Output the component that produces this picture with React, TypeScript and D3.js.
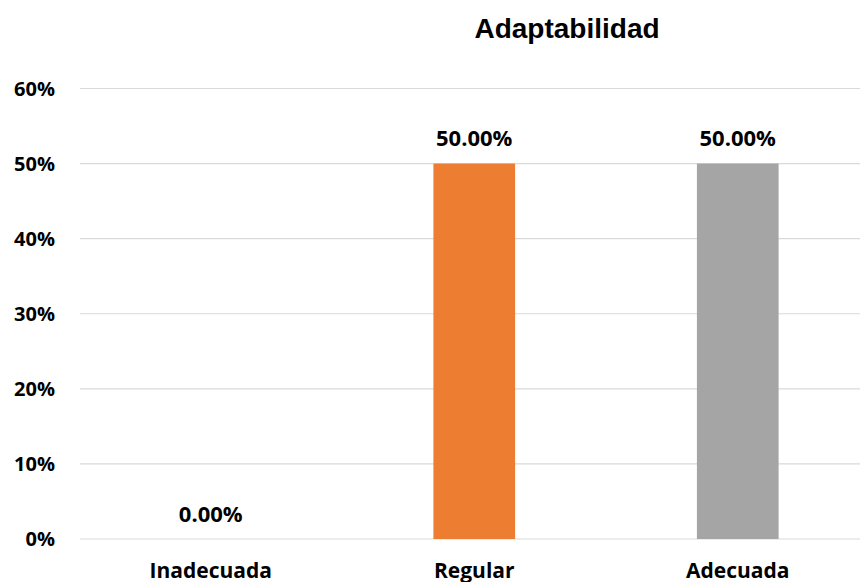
import React from "react";
import * as d3 from "d3";

const categories = ["Inadecuada", "Regular", "Adecuada"];
const values = [0, 0.5, 0.5];
const colors = ["#4472C4", "#ED7D31", "#A5A5A5"];
const yTicks = [0, 0.1, 0.2, 0.3, 0.4, 0.5, 0.6];
const title = "Adaptabilidad";

const W = 860;
const H = 582;
const left = 79;
const right = 869.5;
const top = 88.5;
const bottom = 539;
const labelFont = "Open Sans, Noto Sans, sans-serif";

export default function App() {
  const x = d3.scaleBand<string>().domain(categories).range([left, right]).paddingInner(0.69).paddingOuter(0.345);
  const y = d3.scaleLinear().domain([0, 0.6]).range([bottom, top]);
  const pct0 = d3.format(".0%");
  const pct2 = d3.format(".2%");

  return (
    <svg width={W} height={H} style={{ position: "absolute", left: 0, top: 0, background: "#fff" }}>
      <text x={567} y={38} textAnchor="middle" fontFamily="Liberation Sans, Arial, sans-serif" fontWeight="bold" fontSize={28} fill="#000">
        {title}
      </text>
      {yTicks.map((t) => (
        <g key={t}>
          <line x1={80} x2={W} y1={y(t)} y2={y(t)} stroke="#d9d9d9" strokeWidth={1.2} />
          <text x={55} y={y(t)} dy="0.36em" textAnchor="end" fontFamily={labelFont} fontWeight="bold" fontSize={20} fill="#000">
            {pct0(t)}
          </text>
        </g>
      ))}
      {categories.map((c, i) => {
        const bx = x(c)!;
        const cx = bx + x.bandwidth() / 2;
        return (
          <g key={c}>
            <rect x={bx} y={y(values[i])} width={x.bandwidth()} height={bottom - y(values[i])} fill={colors[i]} />
            <text x={cx} y={y(values[i]) - 17.5} textAnchor="middle" fontFamily={labelFont} fontWeight="bold" fontSize={22} fill="#000">
              {pct2(values[i])}
            </text>
            <text x={cx} y={578} textAnchor="middle" fontFamily={labelFont} fontWeight="bold" fontSize={21} fill="#000">
              {c}
            </text>
          </g>
        );
      })}
    </svg>
  );
}
